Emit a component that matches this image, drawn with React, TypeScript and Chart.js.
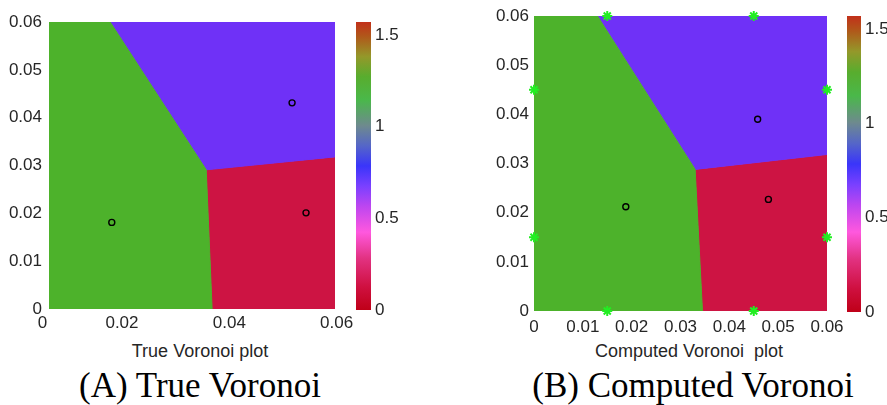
import React, { useEffect, useRef } from 'react';
import { Chart, registerables } from 'chart.js';

Chart.register(...registerables);

// ---------------- data ----------------
// Panel A (true Voronoi)
const xRangeA = [0.0064, 0.0597];
const xTickValuesA = [0.0052, 0.02, 0.04, 0.06];
const xTickLabelsA = ['0', '0.02', '0.04', '0.06'];

// Panel B (computed Voronoi)
const xRangeB = [0, 0.06];
const xTickValuesB = [0, 0.01, 0.02, 0.03, 0.04, 0.05, 0.06];
const xTickLabelsB = ['0', '0.01', '0.02', '0.03', '0.04', '0.05', '0.06'];

const yRange = [0, 0.06];
const yTickValues = [0, 0.01, 0.02, 0.03, 0.04, 0.05, 0.06];
const yTickLabels = ['0', '0.01', '0.02', '0.03', '0.04', '0.05', '0.06'];

// Voronoi cell vertices (x, y)
const greenCellA = [[0, 0], [0.0368, 0], [0.0357, 0.0291], [0.0178, 0.06], [0, 0.06]];
const purpleCellA = [[0.0178, 0.06], [0.0357, 0.0291], [0.065, 0.0324], [0.065, 0.06]];
const redCellA = [[0.0357, 0.0291], [0.0368, 0], [0.065, 0], [0.065, 0.0324]];

const greenCellB = [[0, 0], [0.0345, 0], [0.033, 0.0288], [0.013, 0.06], [0, 0.06]];
const purpleCellB = [[0.013, 0.06], [0.033, 0.0288], [0.065, 0.0324], [0.065, 0.06]];
const redCellB = [[0.033, 0.0288], [0.0345, 0], [0.065, 0], [0.065, 0.0324]];

// generator sites
const sitesA = [[0.0181, 0.0181], [0.0517, 0.0431], [0.0543, 0.0201]];
const sitesB = [[0.0188, 0.0212], [0.0458, 0.039], [0.048, 0.0227]];

// boundary sensor points (panel B)
const boundaryB = [
  [0.015, 0.06], [0.045, 0.06], [0, 0.045], [0.06, 0.045],
  [0, 0.015], [0.06, 0.015], [0.015, 0], [0.045, 0],
];

// colour bar
const cbMax = Math.PI / 2;
const cbTickValues = [0, 0.5, 1, 1.5];
const cbTickLabels = ['0', '0.5', '1', '1.5'];
const cbStopPos = [0, 0.08, 0.18, 0.27, 0.36, 0.43, 0.5, 0.57, 0.64, 0.73, 0.81, 0.88, 0.95, 1];
const cbStopColors = ['#bf0018', '#cf1040', '#e23282', '#ff58de', '#bd46f0', '#7a40ff', '#3a35fa',
  '#5566c8', '#6e8a8e', '#4ab84a', '#58ad2e', '#94982a', '#b0581a', '#c2301a'];

const cellColors = { green: '#4db22b', purple: '#6f31f7', red: '#cd1443' };

// ---------------- helpers ----------------
const TICK_FONT = { family: '"Liberation Sans", Arial, sans-serif', size: 17 };
const TICK_COLOR = '#262626';

const pts = (arr: number[][]) => arr.map(([x, y]) => ({ x, y }));
const closed = (arr: number[][]) => pts([...arr, arr[0]]);

function cellDataset(cell: number[][], color: string) {
  return {
    data: closed(cell),
    showLine: true,
    fill: 'shape',
    backgroundColor: color,
    borderColor: color,
    borderWidth: 1,
    pointRadius: 0,
    tension: 0,
    clip: 0,
  };
}

function voronoiConfig(p: any) {
  const datasets: any[] = [
    {
      data: pts(p.sites),
      pointStyle: 'circle',
      pointRadius: 3,
      borderColor: '#000',
      borderWidth: 1.4,
      backgroundColor: 'rgba(0,0,0,0)',
      showLine: false,
      clip: false,
    },
  ];
  if (p.boundary) {
    datasets.push({
      data: pts(p.boundary),
      pointStyle: 'star',
      pointRadius: 5,
      borderColor: '#22ee22',
      backgroundColor: '#22ee22',
      borderWidth: 2,
      showLine: false,
      clip: false,
    });
  }
  datasets.push(cellDataset(p.green, cellColors.green));
  datasets.push(cellDataset(p.purple, cellColors.purple));
  datasets.push(cellDataset(p.red, cellColors.red));

  return {
    type: 'scatter',
    data: { datasets },
    options: {
      animation: false,
      responsive: false,
      events: [],
      layout: { padding: { top: p.padTop, right: p.padRight, left: 0, bottom: 0 } },
      plugins: { legend: { display: false }, tooltip: { enabled: false } },
      scales: {
        x: {
          type: 'linear',
          min: p.xRange[0],
          max: p.xRange[1],
          afterBuildTicks: (s: any) => { s.ticks = p.xTicks.map((v: number) => ({ value: v })); },
          afterFit: (s: any) => { s.height = p.xHeight; s.paddingLeft = 0; s.paddingRight = 0; },
          ticks: {
            autoSkip: false, maxRotation: 0, padding: p.xPad, color: TICK_COLOR, font: TICK_FONT,
            callback: (_v: any, i: number) => p.xLabels[i],
          },
          grid: { display: false, drawTicks: false },
          border: { display: false },
        },
        y: {
          type: 'linear',
          min: yRange[0],
          max: yRange[1],
          afterBuildTicks: (s: any) => { s.ticks = yTickValues.map((v) => ({ value: v })); },
          afterFit: (s: any) => { s.width = p.yWidth; s.paddingTop = 0; s.paddingBottom = 0; },
          ticks: {
            autoSkip: false, padding: p.yPad, color: TICK_COLOR, font: TICK_FONT,
            callback: (_v: any, i: number) => yTickLabels[i],
          },
          grid: { display: false, drawTicks: false },
          border: { display: false },
        },
      },
    },
  };
}

function colorbarConfig(p: any) {
  const gradient = (ctx: any) => {
    const chart = ctx.chart;
    const area = chart.chartArea;
    if (!area) return cbStopColors[0];
    const ys = chart.scales.y;
    const g = chart.ctx.createLinearGradient(0, ys.getPixelForValue(0), 0, ys.getPixelForValue(cbMax));
    cbStopPos.forEach((o, i) => g.addColorStop(o, cbStopColors[i]));
    return g;
  };
  return {
    type: 'bar',
    data: {
      labels: [''],
      datasets: [{
        data: [cbMax],
        backgroundColor: gradient,
        borderWidth: 0,
        barPercentage: 1,
        categoryPercentage: 1,
      }],
    },
    options: {
      animation: false,
      responsive: false,
      events: [],
      layout: { padding: { top: p.padTop, bottom: p.padBottom, left: 0, right: 0 } },
      plugins: { legend: { display: false }, tooltip: { enabled: false } },
      scales: {
        x: { display: false },
        y: {
          position: 'right',
          min: 0,
          max: cbMax,
          afterBuildTicks: (s: any) => { s.ticks = cbTickValues.map((v) => ({ value: v })); },
          afterFit: (s: any) => { s.width = p.yWidth; s.paddingTop = 0; s.paddingBottom = 0; },
          ticks: {
            autoSkip: false, padding: 4, color: TICK_COLOR, font: TICK_FONT,
            callback: (_v: any, i: number) => cbTickLabels[i],
          },
          grid: { display: false, drawTicks: false },
          border: { display: false },
        },
      },
    },
  };
}

function ChartBox({ left, top, width, height, config }: any) {
  const ref = useRef<HTMLCanvasElement>(null);
  useEffect(() => {
    const chart = new Chart(ref.current as HTMLCanvasElement, config() as any);
    return () => chart.destroy();
  }, []);
  return (
    <canvas
      ref={ref}
      width={width}
      height={height}
      style={{ position: 'absolute', left, top, width, height, display: 'block' }}
    />
  );
}

function Text({ cx, top, children, font, size, color }: any) {
  return (
    <div
      style={{
        position: 'absolute', left: cx - 250, width: 500, top, textAlign: 'center',
        fontFamily: font, fontSize: size, lineHeight: `${size}px`, color, whiteSpace: 'pre',
      }}
    >
      {children}
    </div>
  );
}

export default function App() {
  const sans = '"Liberation Sans", Arial, sans-serif';
  const serif = '"Liberation Serif", "Times New Roman", serif';
  return (
    <div style={{ position: 'fixed', left: 0, top: 0, width: 887, height: 405, background: '#fff', overflow: 'hidden' }}>
      <ChartBox
        left={0} top={0} width={365} height={335}
        config={() => voronoiConfig({
          sites: sitesA, green: greenCellA, purple: purpleCellA, red: redCellA,
          xRange: xRangeA, xTicks: xTickValuesA, xLabels: xTickLabelsA,
          padTop: 22, padRight: 30, yWidth: 49, xHeight: 26, xPad: 4, yPad: 7,
        })}
      />
      <ChartBox
        left={356} top={0} width={60} height={335}
        config={() => colorbarConfig({ padTop: 22, padBottom: 25, yWidth: 45 })}
      />
      <ChartBox
        left={480} top={0} width={367} height={340}
        config={() => voronoiConfig({
          sites: sitesB, boundary: boundaryB, green: greenCellB, purple: purpleCellB, red: redCellB,
          xRange: xRangeB, xTicks: xTickValuesB, xLabels: xTickLabelsB,
          padTop: 16, padRight: 20, yWidth: 54, xHeight: 29, xPad: 6, yPad: 5,
        })}
      />
      <ChartBox
        left={847} top={0} width={40} height={340}
        config={() => colorbarConfig({ padTop: 16, padBottom: 28, yWidth: 26 })}
      />
      <Text cx={200} top={342} font={sans} size={18} color="#262626">True Voronoi plot</Text>
      <Text cx={689} top={342} font={sans} size={18} color="#262626">{'Computed Voronoi  plot'}</Text>
      <Text cx={200} top={368} font={serif} size={35} color="#000">(A) True Voronoi</Text>
      <Text cx={693} top={368} font={serif} size={35} color="#000">(B) Computed Voronoi</Text>
    </div>
  );
}
